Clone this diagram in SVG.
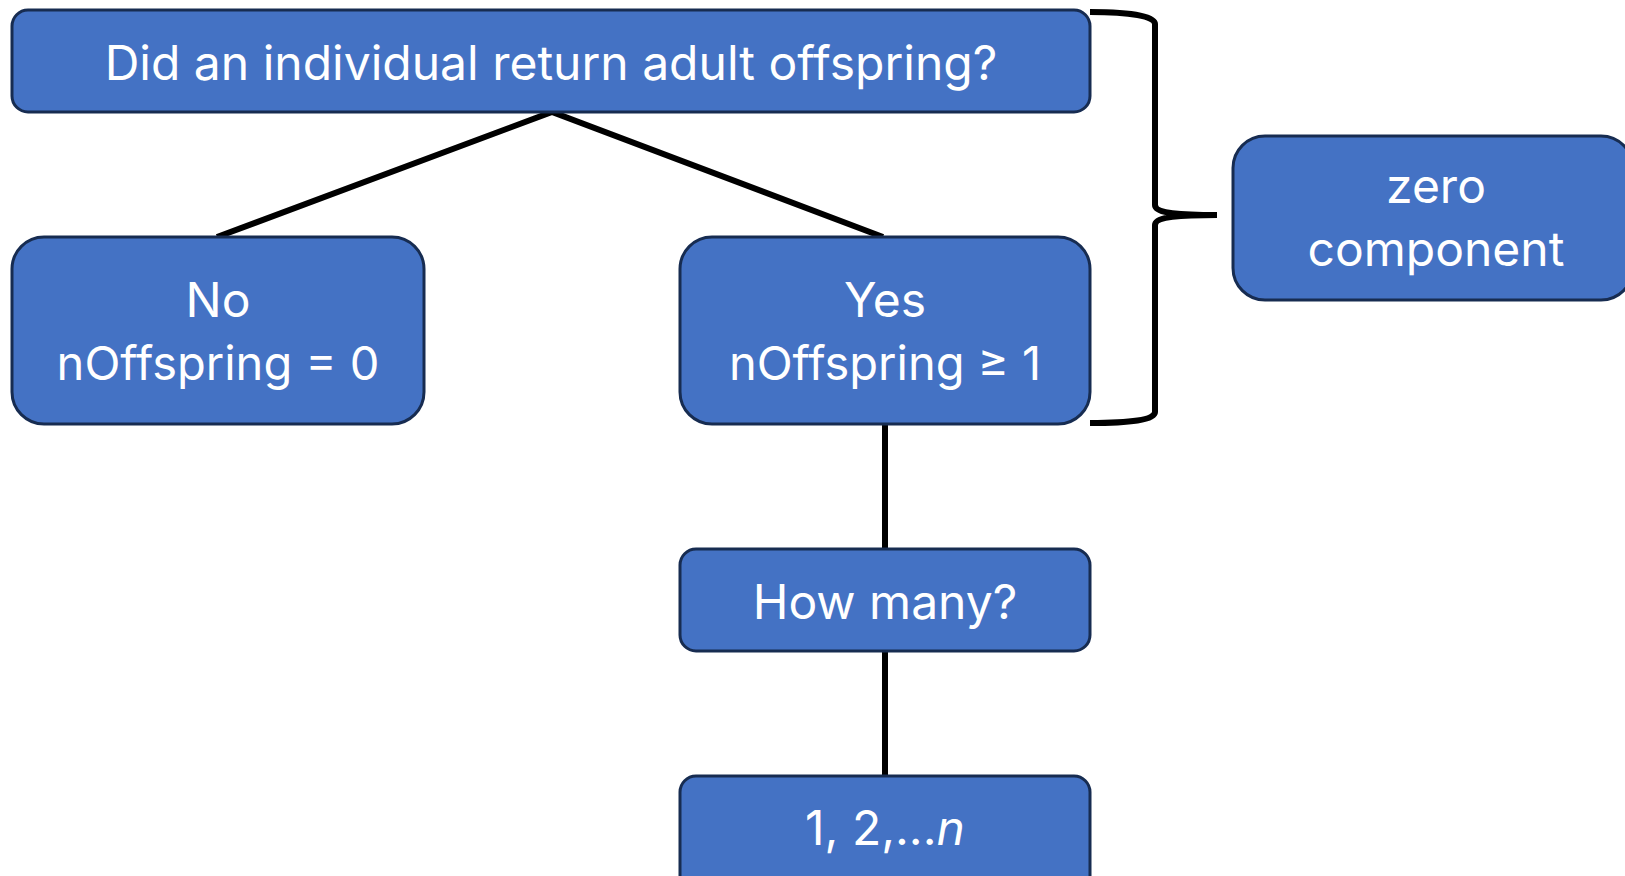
<svg xmlns="http://www.w3.org/2000/svg" width="1625" height="876" viewBox="0 0 1625 876">
<style>
.box{fill:#4472C4;stroke:#172C51;stroke-width:3}
.t{font-family:Inter,"Open Sans","Liberation Sans",sans-serif;font-size:48px;fill:#ffffff;text-anchor:middle}
.s{font-size:47px}
.c{fill:none;stroke:#000;stroke-width:6}
</style>
<rect width="1625" height="876" fill="#ffffff"/>
<g id="connectors">
<polyline class="c" points="217,237 552,112 883,237"/>
<line class="c" x1="885" y1="424" x2="885" y2="549"/>
<line class="c" x1="885" y1="651" x2="885" y2="776"/>
<path class="c" d="M1090,12 C1130,12 1155,16 1155,24 L1155,205 C1155,212 1170,215 1217,215 C1170,215 1155,218 1155,225 L1155,412 C1155,420 1130,423 1090,423"/>
</g>
<g id="n_top">
<rect class="box" x="12" y="10" width="1078" height="102" rx="16"/>
<text class="t" x="551" y="80">Did an individual return adult offspring?</text>
</g>
<g id="n_no">
<rect class="box" x="12" y="237" width="412" height="187" rx="32"/>
<text class="t" x="218" y="317">No</text>
<text class="t s" x="218" y="380">nOffspring = 0</text>
</g>
<g id="n_yes">
<rect class="box" x="680" y="237" width="410" height="187" rx="32"/>
<text class="t" x="885" y="317">Yes</text>
<text class="t s" x="885" y="380">nOffspring ≥ 1</text>
</g>
<g id="n_zero">
<rect class="box" x="1233" y="136" width="400" height="164" rx="32"/>
<text class="t" x="1436" y="203">zero</text>
<text class="t" x="1436" y="266">component</text>
</g>
<g id="n_howmany">
<rect class="box" x="680" y="549" width="410" height="102" rx="16"/>
<text class="t" x="885" y="619">How many?</text>
</g>
<g id="n_range">
<rect class="box" x="680" y="776" width="410" height="130" rx="16"/>
<text class="t" x="885" y="845">1, 2,...<tspan font-style="italic">n</tspan></text>
</g>
</svg>
